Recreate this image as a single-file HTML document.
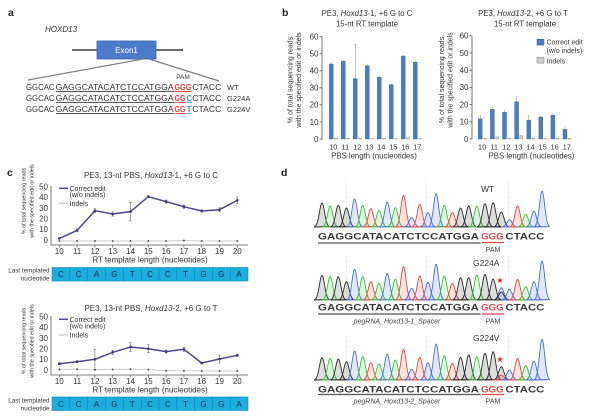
<!DOCTYPE html>
<html><head><meta charset="utf-8">
<style>
html,body{margin:0;padding:0;background:#fff;}
svg{display:block;font-family:"Liberation Sans",Arial,sans-serif;}
</style></head><body>
<svg id="fig" width="600" height="417" viewBox="0 0 600 417" xmlns="http://www.w3.org/2000/svg">
<rect width="600" height="417" fill="#fff"/>

<!-- ===== Panel a ===== -->
<text x="8" y="16" font-size="10.5" font-weight="bold" fill="#222">a</text>
<text x="45" y="32" font-size="8" font-style="italic" fill="#333">HOXD13</text>
<line x1="72" y1="50" x2="183" y2="50" stroke="#6d6d6d" stroke-width="2"/>
<rect x="97" y="41" width="59" height="18" fill="#4b7bc9" stroke="#3a62a8" stroke-width="0.8"/>
<text x="126.5" y="53" font-size="8" fill="#fff" text-anchor="middle">Exon1</text>
<line x1="143" y1="59" x2="28" y2="80" stroke="#808080" stroke-width="1.2"/>
<line x1="149" y1="59" x2="219" y2="81" stroke="#808080" stroke-width="1.2"/>
<text x="183" y="79" font-size="6.5" text-anchor="middle" fill="#333">PAM</text>

<g font-size="8.3" fill="#333">
  <!-- row 1 -->
  <text x="26" y="90" textLength="28.5" lengthAdjust="spacingAndGlyphs">GGCAC</text>
  <text x="55.7" y="90" textLength="118" lengthAdjust="spacingAndGlyphs">GAGGCATACATCTCCATGGA</text>
  <text x="174.5" y="90" textLength="17" lengthAdjust="spacingAndGlyphs" fill="#e5413a" font-weight="bold">GGG</text>
  <text x="192.3" y="90" textLength="29" lengthAdjust="spacingAndGlyphs">CTACC</text>
  <text x="227" y="90" font-size="7.5">WT</text>
  <!-- row 2 -->
  <text x="26" y="101" textLength="28.5" lengthAdjust="spacingAndGlyphs">GGCAC</text>
  <text x="55.7" y="101" textLength="118" lengthAdjust="spacingAndGlyphs">GAGGCATACATCTCCATGGA</text>
  <text x="174.5" y="101" textLength="11" lengthAdjust="spacingAndGlyphs" fill="#e5413a" font-weight="bold">GG</text>
  <text x="186.4" y="101" textLength="5.5" lengthAdjust="spacingAndGlyphs" fill="#2aa6df" font-weight="bold">C</text>
  <text x="192.3" y="101" textLength="29" lengthAdjust="spacingAndGlyphs">CTACC</text>
  <text x="227" y="101" font-size="7.5">G224A</text>
  <!-- row 3 -->
  <text x="26" y="112" textLength="28.5" lengthAdjust="spacingAndGlyphs">GGCAC</text>
  <text x="55.7" y="112" textLength="118" lengthAdjust="spacingAndGlyphs">GAGGCATACATCTCCATGGA</text>
  <text x="174.5" y="112" textLength="11" lengthAdjust="spacingAndGlyphs" fill="#e5413a" font-weight="bold">GG</text>
  <text x="186.4" y="112" textLength="5.5" lengthAdjust="spacingAndGlyphs" fill="#2aa6df" font-weight="bold">T</text>
  <text x="192.3" y="112" textLength="29" lengthAdjust="spacingAndGlyphs">CTACC</text>
  <text x="227" y="112" font-size="7.5">G224V</text>
</g>
<g stroke-width="0.9">
  <line x1="56" y1="91.5" x2="174" y2="91.5" stroke="#555"/>
  <line x1="174.5" y1="91.5" x2="191.5" y2="91.5" stroke="#e5413a"/>
  <line x1="56" y1="102.5" x2="174" y2="102.5" stroke="#555"/>
  <line x1="174.5" y1="102.5" x2="186" y2="102.5" stroke="#e5413a"/>
  <line x1="186.4" y1="102.5" x2="191.5" y2="102.5" stroke="#2aa6df"/>
  <line x1="56" y1="113.5" x2="174" y2="113.5" stroke="#555"/>
  <line x1="174.5" y1="113.5" x2="186" y2="113.5" stroke="#e5413a"/>
  <line x1="186.4" y1="113.5" x2="191.5" y2="113.5" stroke="#2aa6df"/>
</g>

<!-- ===== Panel b ===== -->
<text x="282" y="16" font-size="10.5" font-weight="bold" fill="#222">b</text>
<g font-size="7.8" fill="#333" text-anchor="middle">
  <text x="367" y="16">PE3, <tspan font-style="italic">Hoxd13</tspan>-1, +6 G to C</text>
  <text x="367" y="26.5">15-nt RT template</text>
  <text x="523" y="16">PE3, <tspan font-style="italic">Hoxd13</tspan>-2, +6 G to T</text>
  <text x="525" y="26.5">15-nt RT template</text>
</g>
<g font-size="7" fill="#333" text-anchor="middle">
  <text transform="translate(292.5,80) rotate(-90)">% of total sequencing reads</text>
  <text transform="translate(300.8,80) rotate(-90)">with the specified edit or indels</text>
  <text transform="translate(444,80) rotate(-90)">% of total sequencing reads</text>
  <text transform="translate(452.5,80) rotate(-90)">with the specified edit or indels</text>
</g>
<!-- left axis -->
<g stroke="#555" stroke-width="0.8">
  <line x1="322" y1="36.5" x2="322" y2="139.5"/>
  <line x1="319.5" y1="139" x2="322" y2="139"/><line x1="319.5" y1="121.95" x2="322" y2="121.95"/>
  <line x1="319.5" y1="104.9" x2="322" y2="104.9"/><line x1="319.5" y1="87.85" x2="322" y2="87.85"/>
  <line x1="319.5" y1="70.8" x2="322" y2="70.8"/><line x1="319.5" y1="53.75" x2="322" y2="53.75"/>
  <line x1="319.5" y1="36.7" x2="322" y2="36.7"/>
</g>
<g font-size="8" fill="#333" text-anchor="end">
  <text x="318.5" y="141.8">0</text><text x="318.5" y="124.8">10</text><text x="318.5" y="107.7">20</text>
  <text x="318.5" y="90.7">30</text><text x="318.5" y="73.6">40</text><text x="318.5" y="56.6">50</text><text x="318.5" y="39.5">60</text>
</g>
<g fill="#4a7dbd" stroke="#3c67a3" stroke-width="0.4">
  <rect x="329.3" y="64" width="4" height="75"/>
  <rect x="341.3" y="61.25" width="4" height="77.75"/>
  <rect x="353.3" y="78.6" width="4" height="60.4"/>
  <rect x="365.3" y="65.7" width="4" height="73.3"/>
  <rect x="377.3" y="77.3" width="4" height="61.7"/>
  <rect x="389.3" y="84.6" width="4" height="54.4"/>
  <rect x="401.3" y="56" width="4" height="83"/>
  <rect x="413.3" y="62.3" width="4" height="76.7"/>
</g>
<g stroke="#999" stroke-width="0.6">
  <line x1="331.3" y1="64" x2="331.3" y2="62.3"/>
  <line x1="343.3" y1="61.25" x2="343.3" y2="59.9"/>
  <line x1="355.3" y1="78.6" x2="355.3" y2="44.3"/><line x1="354.3" y1="44.3" x2="356.3" y2="44.3"/>
  <line x1="367.3" y1="65.7" x2="367.3" y2="63.7"/>
  <line x1="379.3" y1="77.3" x2="379.3" y2="75.9"/>
  <line x1="391.3" y1="84.6" x2="391.3" y2="83.2"/>
  <line x1="403.3" y1="56" x2="403.3" y2="55"/>
  <line x1="415.3" y1="62.3" x2="415.3" y2="61"/>
</g>
<g fill="#cfcfcf" stroke="#888" stroke-width="0.4">
  <rect x="334.5" y="138" width="3" height="1"/>
  <rect x="346.5" y="138.2" width="3" height="0.8"/>
  <rect x="358.5" y="138.3" width="3" height="0.7"/>
  <rect x="370.5" y="138.6" width="3" height="0.4"/>
  <rect x="382.5" y="138.4" width="3" height="0.6"/>
  <rect x="394.5" y="138.6" width="3" height="0.4"/>
  <rect x="406.5" y="137.8" width="3" height="1.2"/>
  <rect x="418.5" y="138.5" width="3" height="0.5"/>
</g>
<g font-size="7.5" fill="#333" text-anchor="middle">
  <text x="333.3" y="149.5">10</text><text x="345.3" y="149.5">11</text><text x="357.3" y="149.5">12</text><text x="369.3" y="149.5">13</text>
  <text x="381.3" y="149.5">14</text><text x="393.3" y="149.5">15</text><text x="405.3" y="149.5">16</text><text x="417.3" y="149.5">17</text>
  <text x="374" y="158.5" font-size="7.8">PBS length (nucleotides)</text>
</g>
<!-- right axis -->
<g stroke="#555" stroke-width="0.8">
  <line x1="472" y1="35.5" x2="472" y2="139.5"/>
  <line x1="469.5" y1="139" x2="472" y2="139"/><line x1="469.5" y1="121.8" x2="472" y2="121.8"/>
  <line x1="469.5" y1="104.6" x2="472" y2="104.6"/><line x1="469.5" y1="87.4" x2="472" y2="87.4"/>
  <line x1="469.5" y1="70.2" x2="472" y2="70.2"/><line x1="469.5" y1="53" x2="472" y2="53"/>
  <line x1="469.5" y1="35.8" x2="472" y2="35.8"/>
</g>
<g font-size="8" fill="#333" text-anchor="end">
  <text x="468.5" y="141.8">0</text><text x="468.5" y="124.6">10</text><text x="468.5" y="107.4">20</text>
  <text x="468.5" y="90.2">30</text><text x="468.5" y="73">40</text><text x="468.5" y="55.8">50</text><text x="468.5" y="38.6">60</text>
</g>
<g fill="#4a7dbd" stroke="#3c67a3" stroke-width="0.4">
  <rect x="478.3" y="118.7" width="4" height="20.3"/>
  <rect x="490.4" y="109.2" width="4" height="29.8"/>
  <rect x="502.5" y="112.3" width="4" height="26.7"/>
  <rect x="514.6" y="101.7" width="4" height="37.3"/>
  <rect x="526.7" y="120.1" width="4" height="18.9"/>
  <rect x="538.8" y="117" width="4" height="22"/>
  <rect x="550.9" y="115.3" width="4" height="23.7"/>
  <rect x="563" y="129.4" width="4" height="9.6"/>
</g>
<g stroke="#999" stroke-width="0.6">
  <line x1="480.3" y1="118.7" x2="480.3" y2="114.9"/>
  <line x1="492.4" y1="109.2" x2="492.4" y2="107.2"/>
  <line x1="504.5" y1="112.3" x2="504.5" y2="109.8"/>
  <line x1="516.6" y1="101.7" x2="516.6" y2="96"/>
  <line x1="528.7" y1="120.1" x2="528.7" y2="114.9"/>
  <line x1="540.8" y1="117" x2="540.8" y2="115.8"/>
  <line x1="552.9" y1="115.3" x2="552.9" y2="113.2"/>
  <line x1="565" y1="129.4" x2="565" y2="127"/>
</g>
<g fill="#cfcfcf" stroke="#888" stroke-width="0.4">
  <rect x="483.5" y="138.1" width="3" height="0.9"/>
  <rect x="495.6" y="136.9" width="3" height="2.1"/>
  <rect x="507.7" y="138.1" width="3" height="0.9"/>
  <rect x="519.8" y="135.6" width="3" height="3.4"/>
  <rect x="531.9" y="138" width="3" height="1"/>
  <rect x="544" y="138.5" width="3" height="0.5"/>
  <rect x="556.1" y="138.5" width="3" height="0.5"/>
  <rect x="568.2" y="138.6" width="3" height="0.4"/>
</g>
<g font-size="7.5" fill="#333" text-anchor="middle">
  <text x="482.1" y="149.5">10</text><text x="494.2" y="149.5">11</text><text x="506.3" y="149.5">12</text><text x="518.4" y="149.5">13</text>
  <text x="530.5" y="149.5">14</text><text x="542.6" y="149.5">15</text><text x="554.7" y="149.5">16</text><text x="566.8" y="149.5">17</text>
  <text x="531.5" y="158.5" font-size="7.8">PBS length (nucleotides)</text>
</g>
<!-- legend b -->
<rect x="537" y="39.3" width="7" height="5.8" fill="#4a7dbd" stroke="#2f5a94" stroke-width="0.5"/>
<rect x="537" y="57.3" width="7" height="5.8" fill="#d0d0d0" stroke="#777" stroke-width="0.5"/>
<g font-size="7" fill="#333">
  <text x="546.5" y="44.6">Correct edit</text>
  <text x="546.5" y="53.2">(w/o indels)</text>
  <text x="546.5" y="63.3">Indels</text>
</g>

<!-- ===== Panel c ===== -->
<text x="7" y="176" font-size="10.5" font-weight="bold" fill="#222">c</text>
<g font-size="8" fill="#333" text-anchor="middle">
  <text x="151" y="178">PE3, 13-nt PBS, <tspan font-style="italic">Hoxd13</tspan>-1, +6 G to C</text>
  <text x="151" y="311">PE3, 13-nt PBS, <tspan font-style="italic">Hoxd13</tspan>-2, +6 G to T</text>
</g>
<g font-size="5.4" fill="#333" text-anchor="middle">
  <text transform="translate(25.3,201) rotate(-90)">% of total sequencing reads</text>
  <text transform="translate(33.6,201) rotate(-90)">with the specified edit or indels</text>
  <text transform="translate(25.3,341) rotate(-90)">% of total sequencing reads</text>
  <text transform="translate(33.6,341) rotate(-90)">with the specified edit or indels</text>
</g>
<!-- top axes -->
<g stroke="#555" stroke-width="0.8" fill="none">
  <polyline points="51,186 51,245 248,245"/>
  <polyline points="51,316 51,375 248,375"/>
</g>
<g font-size="8" fill="#333" text-anchor="end">
  <text x="48" y="189.5">50</text><text x="48" y="200.2">40</text><text x="48" y="210.8">30</text>
  <text x="48" y="221.5">20</text><text x="48" y="232.1">10</text><text x="48" y="242.8">0</text>
  <text x="48" y="319.5">50</text><text x="48" y="330.2">40</text><text x="48" y="340.8">30</text>
  <text x="48" y="351.5">20</text><text x="48" y="362.1">10</text><text x="48" y="372.8">0</text>
</g>
<g font-size="8" fill="#333" text-anchor="middle">
  <text x="59.3" y="254">10</text><text x="77.1" y="254">11</text><text x="94.9" y="254">12</text><text x="112.7" y="254">13</text>
  <text x="130.5" y="254">14</text><text x="148.3" y="254">15</text><text x="166.1" y="254">16</text><text x="183.9" y="254">17</text>
  <text x="201.7" y="254">18</text><text x="219.5" y="254">19</text><text x="237.3" y="254">20</text>
  <text x="150" y="262.3">RT template length (nucleotides)</text>
  <text x="59.3" y="384">10</text><text x="77.1" y="384">11</text><text x="94.9" y="384">12</text><text x="112.7" y="384">13</text>
  <text x="130.5" y="384">14</text><text x="148.3" y="384">15</text><text x="166.1" y="384">16</text><text x="183.9" y="384">17</text>
  <text x="201.7" y="384">18</text><text x="219.5" y="384">19</text><text x="237.3" y="384">20</text>
  <text x="150" y="392.3">RT template length (nucleotides)</text>
</g>
<!-- legends c -->
<line x1="59" y1="188.3" x2="68" y2="188.3" stroke="#4b4a8f" stroke-width="1.5"/>
<line x1="59" y1="203.3" x2="68" y2="203.3" stroke="#c8c8c8" stroke-width="1.2"/>
<line x1="59" y1="319.3" x2="68" y2="319.3" stroke="#4b4a8f" stroke-width="1.5"/>
<line x1="59" y1="335" x2="68" y2="335" stroke="#c8c8c8" stroke-width="1.2"/>
<g font-size="7" fill="#333">
  <text x="69.5" y="190.8">Correct edit</text>
  <text x="69.5" y="197">(w/o indels)</text>
  <text x="69.5" y="205.8">Indels</text>
  <text x="69.5" y="321.8">Correct edit</text>
  <text x="69.5" y="328.5">(w/o indels)</text>
  <text x="69.5" y="337.5">Indels</text>
</g>
<!-- lines c -->
<polyline points="59.3,241 77.1,241 94.9,241 112.7,241 130.5,241 148.3,241 166.1,241 183.9,240.5 201.7,241 219.5,241 237.3,241" fill="none" stroke="#cacaca" stroke-width="1"/>
<polyline points="59.3,238.4 77.1,230.4 94.9,210.7 112.7,214 130.5,211.6 148.3,196.7 166.1,201.6 183.9,206.7 201.7,211 219.5,209.7 237.3,200.3" fill="none" stroke="#4b4a8f" stroke-width="1.5" stroke-linejoin="round"/>
<polyline points="59.3,369.5 77.1,369.3 94.9,369.8 112.7,369.5 130.5,369.2 148.3,369.5 166.1,370.8 183.9,370.8 201.7,371 219.5,371 237.3,371" fill="none" stroke="#cacaca" stroke-width="1"/>
<polyline points="59.3,363.7 77.1,361.7 94.9,359.3 112.7,352.3 130.5,347 148.3,348.7 166.1,351.6 183.9,349.3 201.7,363 219.5,359 237.3,355.3" fill="none" stroke="#4b4a8f" stroke-width="1.5" stroke-linejoin="round"/>

<!-- nucleotide bars -->
<g font-size="6.3" fill="#333" text-anchor="end">
  <text x="49.5" y="272.5">Last templated</text>
  <text x="49.5" y="280.3">nucleotide</text>
  <text x="49.5" y="402.5">Last templated</text>
  <text x="49.5" y="410.3">nucleotide</text>
</g>
<g id="nuc"></g>
<g font-size="8" fill="#1b2a44" text-anchor="middle">
  <text x="60.9" y="277">C</text><text x="78.7" y="277">C</text><text x="96.5" y="277">A</text><text x="114.4" y="277">G</text>
  <text x="132.2" y="277">T</text><text x="150" y="277">C</text><text x="167.8" y="277">C</text><text x="185.6" y="277">T</text>
  <text x="203.5" y="277">G</text><text x="221.3" y="277">G</text><text x="239.1" y="277">A</text>
  <text x="60.9" y="406.8">C</text><text x="78.7" y="406.8">C</text><text x="96.5" y="406.8">A</text><text x="114.4" y="406.8">G</text>
  <text x="132.2" y="406.8">T</text><text x="150" y="406.8">C</text><text x="167.8" y="406.8">C</text><text x="185.6" y="406.8">T</text>
  <text x="203.5" y="406.8">G</text><text x="221.3" y="406.8">G</text><text x="239.1" y="406.8">A</text>
</g>

<!-- ===== Panel d ===== -->
<text x="281" y="176" font-size="10.5" font-weight="bold" fill="#222">d</text>
<g id="chrom"></g>
<g font-size="8.5" fill="#333">
  <text x="481" y="192">WT</text>
  <text x="473" y="266">G224A</text>
  <text x="473" y="341">G224V</text>
</g>
<text x="500" y="283" font-size="8" fill="#e0201a" text-anchor="middle">★</text>
<text x="500" y="362" font-size="8" fill="#e0201a" text-anchor="middle">★</text>
<g font-size="9" font-weight="bold">
  <text x="318" y="239.5" textLength="161" lengthAdjust="spacingAndGlyphs" fill="#3a3a3a">GAGGCATACATCTCCATGGA</text>
  <text x="481" y="239.5" textLength="22.7" lengthAdjust="spacingAndGlyphs" fill="#e8474a">GGG</text>
  <text x="505.4" y="239.5" textLength="39" lengthAdjust="spacingAndGlyphs" fill="#3a3a3a">CTACC</text>
  <text x="318" y="310.5" textLength="161" lengthAdjust="spacingAndGlyphs" fill="#3a3a3a">GAGGCATACATCTCCATGGA</text>
  <text x="481" y="310.5" textLength="22.7" lengthAdjust="spacingAndGlyphs" fill="#e8474a">GGG</text>
  <text x="505.4" y="310.5" textLength="39" lengthAdjust="spacingAndGlyphs" fill="#3a3a3a">CTACC</text>
  <text x="318" y="392.5" textLength="161" lengthAdjust="spacingAndGlyphs" fill="#3a3a3a">GAGGCATACATCTCCATGGA</text>
  <text x="481" y="392.5" textLength="22.7" lengthAdjust="spacingAndGlyphs" fill="#e8474a">GGG</text>
  <text x="505.4" y="392.5" textLength="39" lengthAdjust="spacingAndGlyphs" fill="#3a3a3a">CTACC</text>
</g>
<g stroke-width="1.3">
  <line x1="318" y1="243" x2="480.5" y2="243" stroke="#555"/>
  <line x1="482" y1="242.5" x2="504" y2="242.5" stroke="#e8474a"/>
  <line x1="318" y1="314" x2="480.5" y2="314" stroke="#555"/>
  <line x1="482" y1="314" x2="504" y2="314" stroke="#e8474a"/>
  <line x1="318" y1="394.5" x2="480.5" y2="394.5" stroke="#555"/>
  <line x1="482" y1="394.5" x2="504" y2="394.5" stroke="#e8474a"/>
</g>
<g font-size="7" fill="#444" text-anchor="middle">
  <text x="493" y="252">PAM</text>
  <text x="493" y="323.5">PAM</text>
  <text x="493" y="403.5">PAM</text>
  <text x="397" y="323.5" font-style="italic">pegRNA_Hoxd13-1_Spacer</text>
  <text x="397" y="403.5" font-style="italic">pegRNA_Hoxd13-2_Spacer</text>
</g>
<g id="dyn"></g>
</svg>
<script>
(function(){
var NS='http://www.w3.org/2000/svg';
function mk(parent,tag,attrs){var e=document.createElementNS(NS,tag);for(var k in attrs)e.setAttribute(k,attrs[k]);parent.appendChild(e);return e;}
// nucleotide bars
var nuc=document.getElementById('nuc');
[267.5,397].forEach(function(y){
  mk(nuc,'rect',{x:52,y:y,width:196,height:13.5,fill:'#1badde'});
  for(var i=1;i<11;i++){var x=52+17.82*i;mk(nuc,'line',{x1:x,y1:y,x2:x,y2:y+13.5,stroke:'#0f86b8','stroke-width':0.7});}
  mk(nuc,'rect',{x:52,y:y,width:196,height:13.5,fill:'none',stroke:'#0f86b8','stroke-width':0.6});
});
// panel c markers, error bars, ticks
var dyn=document.getElementById('dyn');
var xs=[59.3,77.1,94.9,112.7,130.5,148.3,166.1,183.9,201.7,219.5,237.3];
var top=[238.4,230.4,210.7,214,211.6,196.7,201.6,206.7,211,209.7,200.3];
var topE=[0.6,1.1,2.1,2.1,9.2,1.1,1.6,1.6,1.1,2.1,3.2];
var bot=[363.7,361.7,359.3,352.3,347,348.7,351.6,349.3,363,359,355.3];
var botE=[1,1,10,2,4.3,4,1.5,2,1,4,1.2];
var ti=[241,241,241,241,241,241,241,240.5,241,241,241];
var bi=[369.5,369.3,369.8,369.5,369.2,369.5,370.8,370.8,371,371,371];
xs.forEach(function(x,i){
  mk(dyn,'line',{x1:x,y1:245,x2:x,y2:247.5,stroke:'#555','stroke-width':0.7});
  mk(dyn,'line',{x1:x,y1:375,x2:x,y2:377.5,stroke:'#555','stroke-width':0.7});
  [[top[i],topE[i]],[bot[i],botE[i]]].forEach(function(p){
    mk(dyn,'line',{x1:x,y1:p[0]-p[1],x2:x,y2:p[0]+p[1],stroke:'#666','stroke-width':0.6});
    mk(dyn,'line',{x1:x-1.2,y1:p[0]-p[1],x2:x+1.2,y2:p[0]-p[1],stroke:'#666','stroke-width':0.6});
    mk(dyn,'line',{x1:x-1.2,y1:p[0]+p[1],x2:x+1.2,y2:p[0]+p[1],stroke:'#666','stroke-width':0.6});
    mk(dyn,'circle',{cx:x,cy:p[0],r:1.3,fill:'#3d3c7a'});
  });
  mk(dyn,'rect',{x:x-0.8,y:ti[i]-0.8,width:1.6,height:1.6,fill:'#444'});
  mk(dyn,'rect',{x:x-0.8,y:bi[i]-0.8,width:1.6,height:1.6,fill:'#444'});
});
// chromatograms
var ch=document.getElementById('chrom');
var col={G:'#2a2a2a',A:'#3cbf3c',C:'#4a6fd8',T:'#e5473f'};
var seq='GAGGCATACATCTCCATGGAGGGCTACC';
function peak(cx,b,h,c){
  var s=2.6,d='M'+(cx-7.5).toFixed(2)+','+b;
  for(var dx=-7.5;dx<=7.51;dx+=0.5){d+=' L'+(cx+dx).toFixed(2)+','+(b-h*Math.exp(-dx*dx/(2*s*s))).toFixed(2);}
  d+=' Z';
  mk(ch,'path',{d:d,fill:c,'fill-opacity':0.16,stroke:c,'stroke-width':0.9,'stroke-linejoin':'round'});
}
var sets=[
 {b:227,top:182,h:[24,21,21.7,19,28,21.7,18.3,16.7,25,19.3,31.7,9.3,22.7,14.3,33.3,21.7,14.3,19,21,21,23.3,24.3,15,7.3,21,12.7,15.7,36],extra:null},
 {b:300,top:256,h:[24.7,23.3,23.3,18.3,30.7,23.3,18.3,16.7,26.7,20.7,33.3,11.7,24,17.7,35.7,24,16.7,22.3,22.3,25,25.7,21,12.3,10.7,20.7,13.3,18.3,39],extra:[['C',12.3],['G',8]]},
 {b:380,top:336,h:[22.3,21.7,21,18.3,29,23.3,17.3,16,26,20,30.7,10.7,22.7,17.3,36,24.3,16.7,22.7,25,23.3,26.7,28.3,13.3,10,21.7,14.3,19,40.7],extra:[['G',13.3],['T',5]]}
];
sets.forEach(function(st){
  [346.7,426.7,508.3].forEach(function(x){
    mk(ch,'line',{x1:x,y1:st.top,x2:x,y2:st.b,stroke:'#bdbdbd','stroke-width':0.6,'stroke-dasharray':'1 1.5'});
  });
  mk(ch,'line',{x1:318,y1:st.b,x2:547,y2:st.b,stroke:'#d9837f','stroke-width':0.7,'stroke-opacity':0.7});
  for(var i=0;i<28;i++){
    var cx=322+8.15*i;
    if(i===22&&st.extra){st.extra.forEach(function(e){peak(cx,st.b,e[1],col[e[0]]);});}
    else peak(cx,st.b,st.h[i],col[seq[i]]);
  }
});
})();
</script>
</body></html>
